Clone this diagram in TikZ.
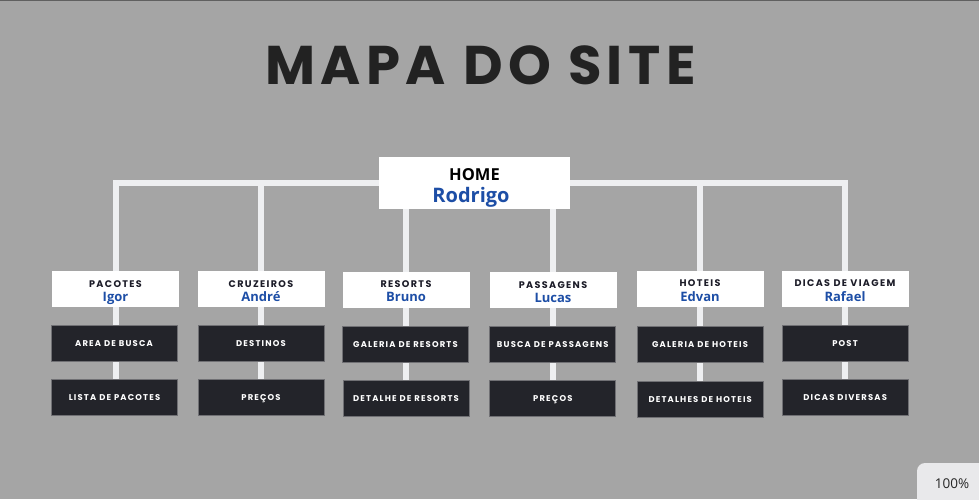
\documentclass[tikz,border=0pt]{standalone}
\usepackage{fontspec}
\setmainfont{Open Sans}
\newfontfamily\titlefont[LetterSpace=10]{Poppins}
\newfontfamily\capsfont[LetterSpace=14]{Poppins}
\usetikzlibrary{backgrounds}
\definecolor{bg}{HTML}{A5A5A5}
\definecolor{linecol}{HTML}{EEEFF1}
\definecolor{titlecol}{HTML}{222222}
\definecolor{nameblue}{HTML}{1D4EA6}
\definecolor{dark}{HTML}{23242A}
\definecolor{darkedge}{HTML}{707074}
\definecolor{sectext}{HTML}{1C1C28}
\definecolor{badge}{HTML}{E9E9EB}
\begin{document}
\begin{tikzpicture}[x=1pt,y=-1pt,
  whitebox/.style={fill=white, minimum width=127pt, minimum height=36pt, inner sep=0pt},
  homebox/.style={fill=white, minimum width=191pt, minimum height=52pt, inner sep=0pt},
  darkbox/.style={fill=dark, draw=darkedge, line width=0.7pt, minimum width=126pt, minimum height=36pt,
    inner sep=0pt, text=white, text height=6pt, text depth=0pt,
    font=\capsfont\bfseries\fontsize{8.4}{9}\selectfont},
  sectitle/.style={anchor=base, inner sep=0pt, text=sectext, font=\capsfont\bfseries\fontsize{9.6}{10}\selectfont},
  person/.style={anchor=base, inner sep=0pt, text=nameblue, font=\bfseries\fontsize{13}{14}\selectfont},
  bus/.style={draw=linecol, line width=6pt, line join=miter}]
\useasboundingbox (0,0) rectangle (979,499);
\clip (0,0) rectangle (979,499);

% title
\node[anchor=base, inner sep=0pt, text=titlecol, font=\titlefont\bfseries\fontsize{54.5}{60}\selectfont] (title) at (480.5,84) {MAPA DO SITE};

% home
\node[homebox] (home) at (474.5,183) {};
\node[anchor=base, inner sep=0pt, font=\bfseries\fontsize{16.5}{18}\selectfont] (homeT) at (474.5,180) {HOME};
\node[anchor=base, inner sep=0pt, text=nameblue, font=\bfseries\fontsize{20}{22}\selectfont] (homeN) at (471,202.3) {Rodrigo};

% level 1
\node[whitebox] (pac) at (115.5,289) {};
\node[sectitle] (pacT) at (115.5,287) {PACOTES};
\node[person] (pacN) at (115.5,301.7) {Igor};

\node[whitebox] (cru) at (261,289) {};
\node[sectitle] (cruT) at (261,287) {CRUZEIROS};
\node[person] (cruN) at (261,301.7) {André};

\node[whitebox] (res) at (406,290) {};
\node[sectitle] (resT) at (406,287.7) {RESORTS};
\node[person] (resN) at (406,301.5) {Bruno};

\node[whitebox] (pas) at (553,290) {};
\node[sectitle] (pasT) at (553,288.3) {PASSAGENS};
\node[person] (pasN) at (553,302.3) {Lucas};

\node[whitebox] (hot) at (700,289) {};
\node[sectitle] (hotT) at (700,286) {HOTEIS};
\node[person] (hotN) at (700,301) {Edvan};

\node[whitebox] (dic) at (845,288.5) {};
\node[sectitle] (dicT) at (845,286) {DICAS DE VIAGEM};
\node[person] (dicN) at (845,301) {Rafael};

% level 2
\node[darkbox] (pac1) at (114,343) {AREA DE BUSCA};
\node[darkbox] (pac2) at (114.5,397.3) {LISTA DE PACOTES};
\node[darkbox] (cru1) at (261,343) {DESTINOS};
\node[darkbox] (cru2) at (261,397.3) {PREÇOS};
\node[darkbox] (res1) at (405.5,344) {GALERIA DE RESORTS};
\node[darkbox] (res2) at (406,398) {DETALHE DE RESORTS};
\node[darkbox] (pas1) at (552.7,344.2) {BUSCA DE PASSAGENS};
\node[darkbox] (pas2) at (552.8,398.5) {PREÇOS};
\node[darkbox] (hot1) at (700,344.7) {GALERIA DE HOTEIS};
\node[darkbox] (hot2) at (700.2,399) {DETALHES DE HOTEIS};
\node[darkbox] (dic1) at (845,343) {POST};
\node[darkbox] (dic2) at (845.2,397) {DICAS DIVERSAS};

% zoom badge
\draw[fill=badge, draw=none, rounded corners=8pt] (917,463) rectangle (1000,520);
\node[inner sep=0pt, anchor=base, text=black!85, font=\fontsize{13.5}{15}\selectfont] (zoomT) at (952,488.5) {100\%};

\begin{pgfonlayer}{background}
  \fill[bg] (0,0) rectangle (979,499);
  \draw[gray!75!black, line width=1pt] (0,0.5) -- (979,0.5);
  \draw[bus] (pac.center) |- (home.center) -| (dic.center);
  \foreach \n in {cru,res,pas,hot} { \draw[bus] (\n.center) |- (home.center); }
  \foreach \n/\b in {pac/pac2,cru/cru2,res/res2,pas/pas2,hot/hot2,dic/dic2} { \draw[bus] (\n.center) -- (\n.center |- \b.center); }
\end{pgfonlayer}
\end{tikzpicture}
\end{document}
